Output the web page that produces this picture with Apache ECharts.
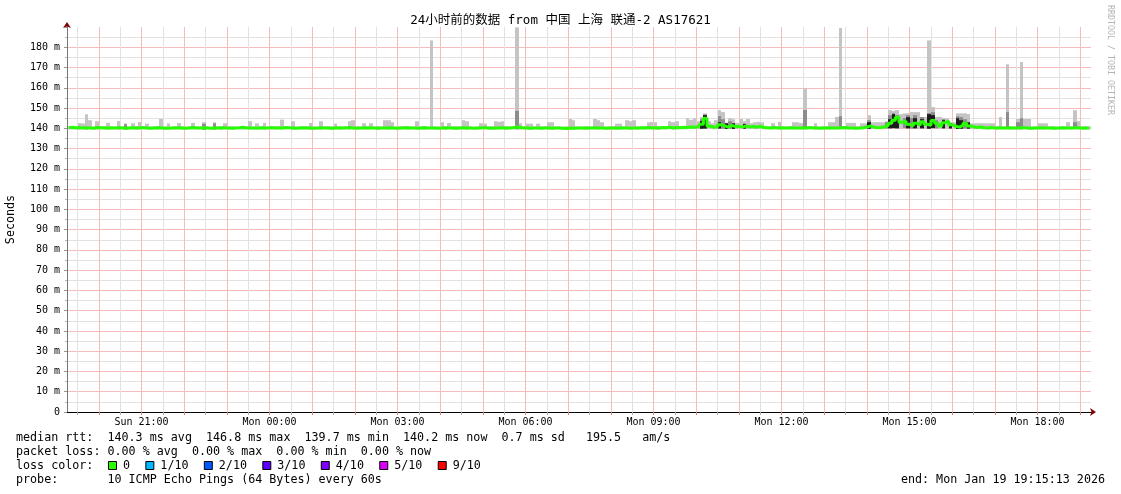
<!DOCTYPE html>
<html><head><meta charset="utf-8">
<script src="https://cdn.jsdelivr.net/npm/echarts@6/dist/echarts.min.js"></script>
<style>html,body{margin:0;padding:0;background:#fff}#c{width:1121px;height:494px}</style>
</head><body><div id="c"></div>
<script>
// ---- time frame (minutes since Sun 00:00) ----
const START_MIN = 1155.2167;   // Sun 19:15:13
const END_MIN = 2595.2167;     // Mon 19:15:13
const SLOT = 5;                // minutes per data slot

// ---- median RTT (ms), one value per 5-minute slot ----
const median = [
140.3,140.5,140.2,140.4,140.1,140.3,140.2,140.0,140.4,140.3,140.1,140.2,
140.3,140.2,140.4,140.1,140.0,140.2,140.3,140.1,140.2,140.4,140.1,140.0,
140.2,140.3,140.1,140.2,140.0,140.1,140.3,140.2,140.1,140.0,140.2,140.4,
140.1,140.2,140.3,140.1,140.0,140.2,140.1,140.3,140.2,140.1,140.0,140.2,
140.3,140.5,140.2,140.1,140.2,140.0,140.3,140.2,140.1,140.4,140.2,140.1,
140.2,140.4,140.3,140.2,140.0,140.1,140.3,140.1,140.2,140.0,140.1,140.3,
140.2,140.1,140.0,140.2,140.3,140.1,140.2,140.4,140.1,140.0,140.2,140.1,
140.3,140.2,140.1,140.0,140.2,140.1,140.3,140.2,140.0,140.1,140.2,140.3,
140.1,140.2,140.0,140.1,140.3,140.2,140.1,140.2,140.0,140.1,140.3,140.2,
140.1,140.0,140.2,140.3,140.1,140.2,140.0,140.1,140.2,140.4,140.1,140.0,
140.2,140.1,140.3,140.2,140.1,140.3,140.6,140.4,140.2,140.1,140.0,140.2,
140.1,140.0,140.2,140.1,140.0,140.2,140.1,140.0,139.9,140.1,140.0,140.2,
140.1,140.0,140.2,140.1,140.3,140.2,140.1,140.0,140.2,140.1,140.0,140.1,
140.2,140.1,140.0,140.2,140.1,140.3,140.2,140.4,140.2,140.3,140.1,140.4,
140.3,140.5,140.2,140.4,140.3,140.5,140.4,140.6,140.5,140.8,142.0,145.0,
141.0,140.5,140.8,141.8,141.2,140.6,141.5,140.8,141.0,140.6,141.2,140.7,
140.9,140.5,141.0,140.4,140.3,140.2,140.4,140.1,140.3,140.2,140.1,140.3,
140.2,140.1,140.3,140.2,140.4,140.1,140.2,140.0,140.2,140.3,140.1,140.2,
140.1,140.3,140.4,140.2,140.1,140.0,140.2,140.3,140.6,141.2,140.5,140.3,
140.4,140.8,141.5,142.5,144.0,145.5,143.0,143.5,142.0,141.2,142.5,141.6,
143.2,142.0,141.5,143.8,142.5,141.2,142.8,143.5,141.8,141.0,140.6,141.4,
142.5,141.2,140.8,140.4,140.6,140.3,140.2,140.4,140.1,140.3,140.2,140.1,
140.3,140.2,140.1,140.2,140.4,140.1,140.0,140.2,140.1,140.3,140.2,140.1,
140.2,140.0,140.1,140.3,140.2,140.1,140.2,140.4,140.1,140.0,140.2,140.2
];

// ---- smoke top (max ping, ms) per slot ----
const smokeHi = [
140.9,141.1,140.8,142.6,142.4,146.9,144.0,140.9,143.5,140.9,141.1,142.7,
140.9,140.8,143.6,141.0,142.4,140.9,142.5,141.1,143.1,141.0,142.3,140.9,
140.9,141.1,144.6,140.8,142.4,140.9,140.9,142.6,141.0,140.8,141.1,142.7,
141.0,140.9,143.0,141.1,140.8,143.0,140.9,140.9,142.5,141.0,141.1,140.8,
140.9,140.9,141.0,143.5,140.8,142.4,141.1,142.7,140.9,140.9,141.0,141.1,
144.3,141.0,140.9,143.5,140.9,141.1,140.8,141.0,142.6,140.9,140.9,143.5,
141.0,141.1,140.9,142.3,140.9,140.8,141.0,143.5,144.0,141.1,140.9,142.5,
141.0,142.5,140.9,141.1,140.8,144.0,144.0,143.0,140.9,140.9,141.1,141.0,
140.9,140.9,143.5,141.0,141.1,140.8,183.4,140.9,140.9,143.0,140.9,142.6,
141.0,141.1,140.9,144.0,143.5,141.0,140.8,140.9,142.5,142.3,141.0,141.1,
143.5,143.2,143.5,141.0,140.9,141.1,189.8,142.5,141.0,142.3,142.3,140.9,
142.3,141.0,141.1,143.0,143.0,140.9,140.9,140.8,141.0,144.6,144.0,140.9,
140.9,141.1,141.0,140.8,144.6,144.0,143.0,140.9,140.9,141.1,142.3,142.3,
141.0,144.0,143.5,144.0,140.9,140.9,141.0,143.0,143.2,143.0,141.1,141.0,
140.9,143.5,143.0,143.5,141.1,141.0,145.0,144.2,145.0,143.5,145.5,147.4,
143.5,142.5,144.0,149.0,148.0,142.8,145.0,144.5,142.6,144.6,143.5,144.6,
142.5,143.0,143.2,143.0,141.1,140.9,142.5,141.0,143.2,140.9,140.9,141.1,
143.0,143.0,142.6,159.8,140.9,141.0,142.5,140.9,141.1,141.0,143.0,143.0,
145.6,189.5,141.1,142.7,142.7,142.7,141.0,142.5,142.5,146.4,143.0,143.0,
143.0,143.0,143.5,149.0,148.5,149.0,147.0,147.4,147.4,148.0,148.0,148.0,
145.6,145.6,183.4,150.5,145.6,145.6,145.0,145.0,143.0,143.0,147.4,147.4,
147.4,147.0,142.5,142.5,142.5,142.5,142.5,142.5,142.5,141.0,145.6,141.0,
171.6,140.9,140.9,144.6,172.7,144.6,144.6,140.9,141.0,142.5,142.5,142.5,
141.0,141.1,140.9,140.9,140.9,143.0,140.9,148.9,143.6,141.0,141.1,140.9
];

// ---- smoke bottom (min ping, ms) per slot ----
const smokeLo = [
139.5,139.4,139.6,139.3,139.5,139.2,139.6,139.5,139.4,139.6,139.5,139.3,
139.6,139.5,139.2,139.6,139.4,139.5,139.6,139.3,139.5,139.6,139.4,139.5,
139.6,139.4,139.5,139.2,139.6,139.5,139.4,139.6,139.3,139.5,139.6,139.4,
139.5,139.6,139.3,139.5,139.6,139.4,139.5,139.2,139.6,139.5,139.4,139.6,
139.5,139.3,139.6,139.5,139.4,139.6,139.5,139.3,139.6,139.4,139.5,139.6,
139.4,139.5,139.6,139.3,139.5,139.6,139.4,139.5,139.2,139.6,139.5,139.4,
139.6,139.5,139.3,139.6,139.4,139.5,139.6,139.3,139.5,139.4,139.6,139.5,
139.4,139.6,139.5,139.3,139.6,139.5,139.4,139.6,139.5,139.3,139.6,139.5,
139.5,139.6,139.4,139.5,139.3,139.6,139.5,139.4,139.6,139.5,139.2,139.6,
139.5,139.4,139.6,139.5,139.3,139.6,139.5,139.4,139.6,139.5,139.3,139.6,
139.4,139.5,139.6,139.3,139.5,139.6,139.5,139.4,139.6,139.5,139.3,139.6,
139.5,139.4,139.6,139.5,139.3,139.6,139.4,139.5,139.2,139.5,139.6,139.4,
139.6,139.5,139.3,139.6,139.5,139.4,139.6,139.5,139.3,139.6,139.5,139.4,
139.5,139.6,139.4,139.5,139.3,139.6,139.5,139.4,139.6,139.5,139.3,139.6,
139.5,139.6,139.4,139.5,139.6,139.5,139.6,139.7,139.6,139.7,139.8,139.9,
139.8,139.7,139.8,139.9,139.8,139.7,139.8,139.7,139.8,139.7,139.8,139.7,
139.7,139.6,139.7,139.6,139.5,139.6,139.5,139.6,139.4,139.6,139.5,139.6,
139.5,139.6,139.4,139.6,139.5,139.6,139.4,139.5,139.6,139.5,139.4,139.6,
139.5,139.6,139.5,139.4,139.6,139.5,139.6,139.5,139.6,139.8,139.7,139.6,
139.7,139.8,139.9,140.0,140.1,140.0,139.9,140.1,140.0,139.9,140.0,139.9,
140.0,139.9,139.8,140.1,140.0,139.9,140.0,140.1,139.9,139.8,139.7,139.8,
139.9,139.8,139.7,139.6,139.7,139.5,139.6,139.5,139.6,139.4,139.6,139.5,
139.6,139.5,139.4,139.6,139.5,139.6,139.5,139.3,139.6,139.5,139.4,139.6,
139.5,139.3,139.6,139.5,139.4,139.6,139.5,139.6,139.4,139.5,139.6,139.5
];

// ---- denser smoke bands: [slot, top ms] ----
const midBands = [
[16,142.0],[38,142.2],[41,142.4],[126,148.6],[178,144.5],[179,146.8],[183,146.0],[184,144.5],
[186,143.5],[207,149.0],[217,146.0],[225,144.0],[230,143.0],[231,146.5],[232,147.5],[233,146.5],
[235,145.0],[236,146.5],[237,145.0],[238,146.5],[240,145.5],[242,147.5],[243,148.0],[244,144.0],
[246,144.5],[250,146.0],[251,145.5],[252,144.5],[264,148.0],[267,143.0],[268,145.0],[283,143.0]
];
const darkBands = [
[178,143.5],[179,146.5],[183,143.0],[185,142.5],[187,142.5],[190,142.2],[225,143.0],[231,144.5],
[232,147.0],[233,146.0],[236,145.5],[238,145.0],[240,144.5],[242,147.0],[243,146.5],[246,144.0],
[248,142.5],[250,145.0],[251,144.0],[253,143.0]
];

// ---- axis ticks (minutes since Sun 00:00) ----
const xHalfHourTicks = [1170,1230,1290,1350,1410,1470,1530,1590,1650,1710,1770,1830,1890,1950,2010,2070,
2130,2190,2250,2310,2370,2430,2490,2550];
const xHourTicks = [1200,1260,1320,1380,1440,1500,1560,1620,1680,1740,1800,1860,1920,1980,2040,2100,
2160,2220,2280,2340,2400,2460,2520,2580];
const xLabelMinutes = [1260,1440,1620,1800,1980,2160,2340,2520];
const dayNames = ['Sun','Mon'];

// ---- texts ----
const titleText = '24小时前的数据 from 中国 上海 联通-2 AS17621';
const statLines = [
'median rtt:  140.3 ms avg  146.8 ms max  139.7 ms min  140.2 ms now  0.7 ms sd   195.5   am/s',
'packet loss: 0.00 % avg  0.00 % max  0.00 % min  0.00 % now'
];
const lossLabels = ['0','1/10','2/10','3/10','4/10','5/10','9/10'];
const lossColors = ['#26ff00','#00b8ff','#0059ff','#5e00ff','#7e00ff','#dd00ff','#ff0000'];
const probeText = 'probe:       10 ICMP Echo Pings (64 Bytes) every 60s';
const endText = 'end: Mon Jan 19 19:15:13 2026';

// ---------------------------------------------------------------
const MONO = '"DejaVu Sans Mono", "Noto Sans CJK SC", monospace';
const chart = echarts.init(document.getElementById('c'), null, {renderer: 'canvas'});

function pad(n){ return (n < 10 ? '0' : '') + n; }
function fmtX(v){
  const d = Math.floor(v / 1440);
  const m = Math.round(v - d * 1440);
  return dayNames[d] + ' ' + pad(Math.floor(m / 60)) + ':' + pad(m % 60);
}
function rectRender(color){
  return function(params, api){
    const t = api.value(0);
    const a = api.coord([t, api.value(2)]);
    const b = api.coord([t + SLOT, api.value(1)]);
    const x0 = Math.round(a[0]), x1 = Math.round(b[0]);
    return {type: 'rect', shape: {x: x0, y: a[1], width: x1 - x0, height: b[1] - a[1]},
            style: {fill: color}};
  };
}
const smokeData = smokeHi.map((h, i) => [START_MIN + i * SLOT, smokeLo[i], h]);
const midData = midBands.map(([s, top]) => [START_MIN + s * SLOT, smokeLo[s], top]);
const darkData = darkBands.map(([s, top]) => [START_MIN + s * SLOT, smokeLo[s], top]);
const medianData = median.map((v, i) => [START_MIN + (i + 0.5) * SLOT, v]);

const RED = '#f6bcbc';
const GRAY = '#e2e2e2';
const FS = 11.7;
const CW = FS * 0.6021;
const TFONT = FS + 'px ' + MONO;

const graphics = [];
graphics.push({type: 'text', x: 560.5, y: 21, style: {text: titleText, font: '12.5px ' + MONO, fill: '#000', align: 'center', verticalAlign: 'middle'}});
statLines.forEach((s, k) => graphics.push({type: 'text', x: 16, y: 438 + k * 14,
  style: {text: s, font: TFONT, fill: '#000', align: 'left', verticalAlign: 'middle'}}));
graphics.push({type: 'text', x: 16, y: 466, style: {text: 'loss color:', font: TFONT, fill: '#000', align: 'left', verticalAlign: 'middle'}});
let lx = 108;
lossLabels.forEach((lab, k) => {
  graphics.push({type: 'rect', shape: {x: lx + 0.5, y: 461.5, width: 8, height: 8},
    style: {fill: lossColors[k], stroke: '#000', lineWidth: 1}});
  graphics.push({type: 'text', x: lx + 15, y: 466, style: {text: lab, font: TFONT, fill: '#000', align: 'left', verticalAlign: 'middle'}});
  lx += 15 + lab.length * CW + 15.3;
});
graphics.push({type: 'text', x: 16, y: 480, style: {text: probeText, font: TFONT, fill: '#000', align: 'left', verticalAlign: 'middle'}});
graphics.push({type: 'text', x: 1105, y: 480, style: {text: endText, font: TFONT, fill: '#000', align: 'right', verticalAlign: 'middle'}});
graphics.push({type: 'text', x: 1110, y: 5, rotation: -Math.PI / 2,
  style: {text: 'RRDTOOL / TOBI OETIKER', font: '8.3px ' + MONO, fill: '#b4b4b4', align: 'left', verticalAlign: 'middle'}});

chart.setOption({
  animation: false,
  backgroundColor: '#fff',
  grid: {left: 67, right: 30, top: 27, bottom: 82, containLabel: false, outerBoundsMode: 'none'},
  xAxis: [{
    type: 'value', min: START_MIN, max: END_MIN, position: 'bottom', z: 2,
    axisLine: {show: true, onZero: false, lineStyle: {color: '#000', width: 1}},
    axisTick: {show: true, interval: 0, customValues: xHalfHourTicks, length: 3, lineStyle: {color: '#aaa'}},
    axisLabel: {show: true, interval: 0, customValues: xLabelMinutes, formatter: fmtX, fontFamily: MONO,
      fontSize: 10, color: '#000', margin: 5},
    splitLine: {show: true, interval: 0, showMinLine: true, showMaxLine: true,
      lineStyle: {color: GRAY, type: 'solid', width: 1}}
  }, {
    type: 'value', min: START_MIN, max: END_MIN, position: 'bottom', z: 0,
    axisLine: {show: true, onZero: false, symbol: ['none', 'arrow'], symbolSize: [6, 6], symbolOffset: [0, 5],
      lineStyle: {color: '#800000', width: 1}},
    axisTick: {show: false}, axisLabel: {show: false}, splitLine: {show: false}
  }, {
    type: 'value', min: START_MIN, max: END_MIN, position: 'bottom', z: 3,
    axisLine: {show: false, onZero: false},
    axisTick: {show: true, interval: 0, customValues: xHourTicks, length: 3, lineStyle: {color: '#e08080'}},
    axisLabel: {show: false, interval: 0},
    splitLine: {show: true, interval: 0, showMinLine: true, showMaxLine: true,
      lineStyle: {color: RED, type: 'solid', width: 1}}
  }],
  yAxis: [{
    type: 'value', min: 0, max: 190, interval: 10, position: 'left', z: 2,
    name: 'Seconds', nameLocation: 'middle', nameRotate: 90, nameGap: 50,
    nameTextStyle: {fontFamily: MONO, fontSize: 11.7, color: '#000'},
    axisLine: {show: true, onZero: false, lineStyle: {color: '#777', width: 1}},
    axisTick: {show: true, length: 3, lineStyle: {color: '#999'}},
    minorTick: {show: true, splitNumber: 2, length: 2, lineStyle: {color: '#bbb'}},
    axisLabel: {show: true, showMaxLabel: false, fontFamily: MONO, fontSize: 10, color: '#000', margin: 7,
      formatter: v => v === 0 ? '0' : v + ' m'},
    splitLine: {show: true, showMinLine: false, showMaxLine: false, lineStyle: {color: RED, type: 'solid', width: 1}},
    minorSplitLine: {show: true, lineStyle: {color: GRAY, type: 'solid', width: 1}}
  }, {
    type: 'value', min: 0, max: 190, position: 'left', z: 0,
    axisLine: {show: true, onZero: false, symbol: ['none', 'arrow'], symbolSize: [6, 6], symbolOffset: [0, 5],
      lineStyle: {color: '#800000', width: 1}},
    axisTick: {show: false}, axisLabel: {show: false}, splitLine: {show: false}
  }],
  series: [
    {type: 'custom', name: 'smoke', renderItem: rectRender('#c4c4c4'), data: smokeData,
     encode: {x: 0, y: [1, 2]}, clip: true, z: 2, silent: true},
    {type: 'custom', name: 'smoke mid', renderItem: rectRender('#8c8c8c'), data: midData,
     encode: {x: 0, y: [1, 2]}, clip: true, z: 3, silent: true},
    {type: 'custom', name: 'smoke dark', renderItem: rectRender('#1c1c1c'), data: darkData,
     encode: {x: 0, y: [1, 2]}, clip: true, z: 4, silent: true},
    {type: 'line', name: 'median', data: medianData, step: 'middle', showSymbol: false,
     lineStyle: {color: '#26ff00', width: 3}, z: 5, silent: true}
  ],
  graphic: {elements: graphics}
});
</script>
</body></html>
